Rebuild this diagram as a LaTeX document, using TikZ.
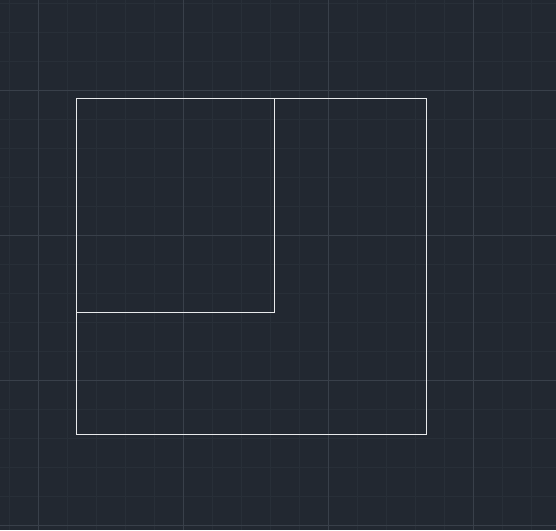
\documentclass[tikz,border=0pt]{standalone}
\usepackage{amsmath}

\definecolor{canvasbg}{RGB}{34,40,49}
\definecolor{gridminor}{RGB}{40,47,56}
\definecolor{gridmajor}{RGB}{57,64,74}
\definecolor{outline}{RGB}{232,234,236}

\begin{document}
\begin{tikzpicture}[x=1pt,y=1pt,yscale=-1,xscale=1]
	\useasboundingbox (0,0) rectangle (556,530);
	\fill [canvasbg] (0,0) rectangle (556,530);
	% minor grid
	\foreach \gx in {9,38,...,556} \draw [gridminor, line width=1] (\gx,0) -- (\gx,530);
	\foreach \gy in {3,32,...,530} \draw [gridminor, line width=1] (0,\gy) -- (556,\gy);
	% major grid
	\foreach \gx in {38,183,328,473} \draw [gridmajor, line width=1] (\gx,0) -- (\gx,530);
	\foreach \gy in {90,235,380,525} \draw [gridmajor, line width=1] (0,\gy) -- (556,\gy);
	% outer square and inner square
	\draw [outline, line width=1.2] (76.3,98.3) -- (426.3,98.3) -- (426.3,434.3) -- (76.3,434.3) -- cycle ;
	\draw [outline, line width=1.2] (274.3,98.3) -- (274.3,312.3) -- (76.3,312.3) ;
\end{tikzpicture}
\end{document}
